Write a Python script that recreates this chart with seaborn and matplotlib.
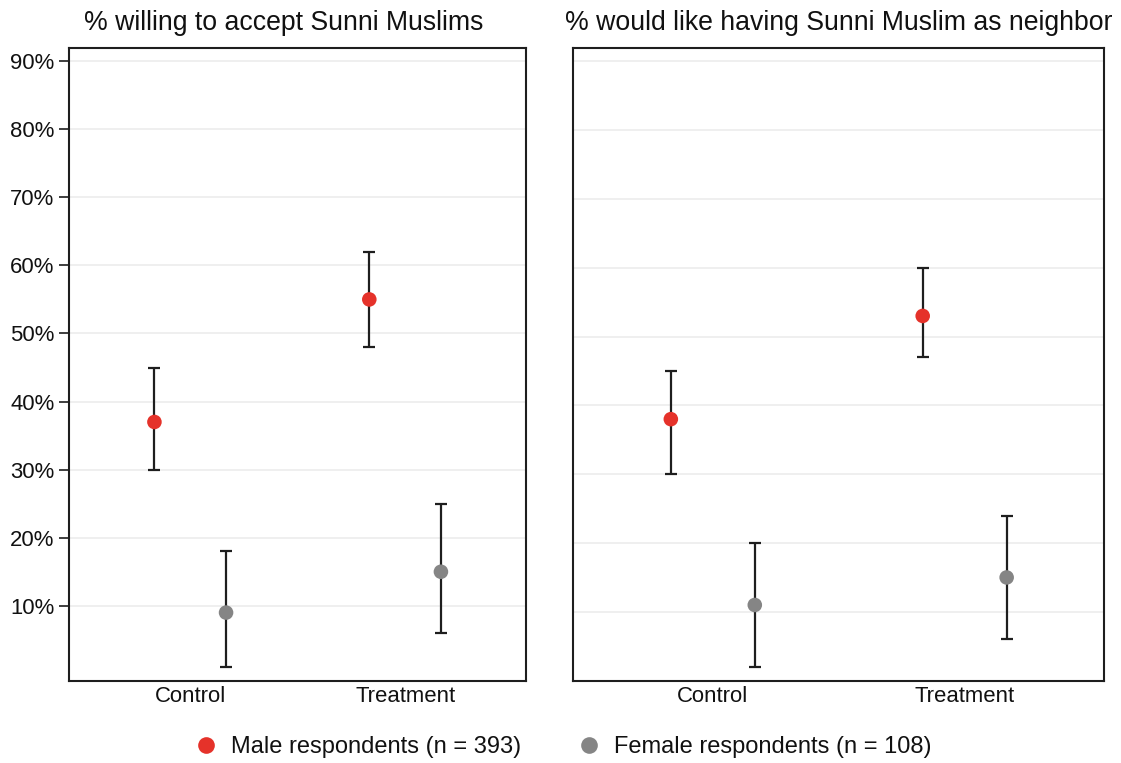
import matplotlib
matplotlib.use("Agg")
import matplotlib.pyplot as plt
from matplotlib.lines import Line2D
from matplotlib.ticker import FuncFormatter
import seaborn as sns
import pandas as pd
import numpy as np

# ---- data ----
conditions = ["Control", "Treatment"]
genders = ["Male respondents (n = 393)", "Female respondents (n = 108)"]

accept_male_est = [37, 55]
accept_male_lo = [30, 48]
accept_male_hi = [45, 62]
accept_female_est = [9, 15]
accept_female_lo = [1, 6]
accept_female_hi = [18, 25]

neighbor_male_est = [38, 53]
neighbor_male_lo = [30, 47]
neighbor_male_hi = [45, 60]
neighbor_female_est = [11, 15]
neighbor_female_lo = [2, 6]
neighbor_female_hi = [20, 24]

titles = ["% willing to accept Sunni Muslims",
          "% would like having Sunni Muslim as neighbor"]
yticks = [10, 20, 30, 40, 50, 60, 70, 80, 90]

# ---- style ----
sns.set_style("white")
plt.rcParams["font.family"] = ["Liberation Sans", "DejaVu Sans"]

RED = "#e5322a"
GRAY = "#858585"
DARK = "#1e1e1e"
palette = {genders[0]: RED, genders[1]: GRAY}


def build(m_est, m_lo, m_hi, f_est, f_lo, f_hi):
    rows = []
    for gi, (g, est, lo, hi) in enumerate([(genders[0], m_est, m_lo, m_hi),
                                           (genders[1], f_est, f_lo, f_hi)]):
        for ci, c in enumerate(conditions):
            rows.append(dict(condition=c, cidx=ci, gender=g, gidx=gi,
                             est=est[ci], lo=lo[ci], hi=hi[ci]))
    df = pd.DataFrame(rows)
    df["xpos"] = df["cidx"] + np.where(df["gidx"] == 0, -1 / 6, 1 / 6)
    return df


dfs = [build(accept_male_est, accept_male_lo, accept_male_hi,
             accept_female_est, accept_female_lo, accept_female_hi),
       build(neighbor_male_est, neighbor_male_lo, neighbor_male_hi,
             neighbor_female_est, neighbor_female_lo, neighbor_female_hi)]

fig = plt.figure(figsize=(11.21, 7.63), dpi=100)
ax1 = fig.add_axes([0.0616, 0.1079, 0.4077, 0.8298])
ax2 = fig.add_axes([0.5114, 0.1079, 0.4734, 0.8298])
axes = [ax1, ax2]
xlims = [(-0.564, 1.563), (-0.554, 1.553)]
ylims = [(-1, 92), (0, 92)]
title_x = [284 / 1121, 839 / 1121]

for i, (ax, df) in enumerate(zip(axes, dfs)):
    ax.errorbar(df["xpos"], df["est"],
                yerr=[df["est"] - df["lo"], df["hi"] - df["est"]],
                fmt="none", ecolor=DARK, elinewidth=1.6, capsize=4.5,
                capthick=1.6, zorder=2)
    sns.scatterplot(data=df, x="xpos", y="est", hue="gender",
                    palette=palette, s=110, edgecolor="none",
                    legend=False, ax=ax, zorder=3)
    ax.set_xlim(*xlims[i])
    ax.set_ylim(*ylims[i])
    ax.set_xticks(range(len(conditions)))
    ax.set_xticklabels(conditions)
    ax.set_yticks(yticks)
    ax.yaxis.set_major_formatter(FuncFormatter(lambda v, p: f"{v:.0f}%"))
    ax.set_xlabel("")
    ax.set_ylabel("")
    ax.grid(axis="y", color="#efefef", linewidth=1.4, zorder=0)
    ax.set_axisbelow(True)
    for sp in ax.spines.values():
        sp.set_color(DARK)
        sp.set_linewidth(1.5)
        sp.set_visible(True)
    ax.tick_params(axis="x", length=0, pad=4, labelsize=15.9, colors="#111111")
    if i == 0:
        ax.tick_params(axis="y", length=7, width=1.2, color=DARK, pad=3.5,
                       labelsize=15.9, labelcolor="#111111", left=True)
    else:
        ax.tick_params(axis="y", length=0, labelleft=False, left=False)
    fig.text(title_x[i], 1 - 29.5 / 763, titles[i], ha="center",
             va="baseline", fontsize=19.2, color="#111111")

handles = [Line2D([0], [0], marker="o", linestyle="none", markersize=12,
                  markerfacecolor=palette[g], markeredgecolor="none")
           for g in genders]
leg = fig.legend(handles, genders, loc="center", ncol=2,
                 bbox_to_anchor=(0.502, 1 - 747 / 763), frameon=False,
                 fontsize=17, handlelength=1.0, handletextpad=0.56,
                 columnspacing=2.36)
for t in leg.get_texts():
    t.set_color("#111111")

fig.savefig("out.png", dpi=100)
